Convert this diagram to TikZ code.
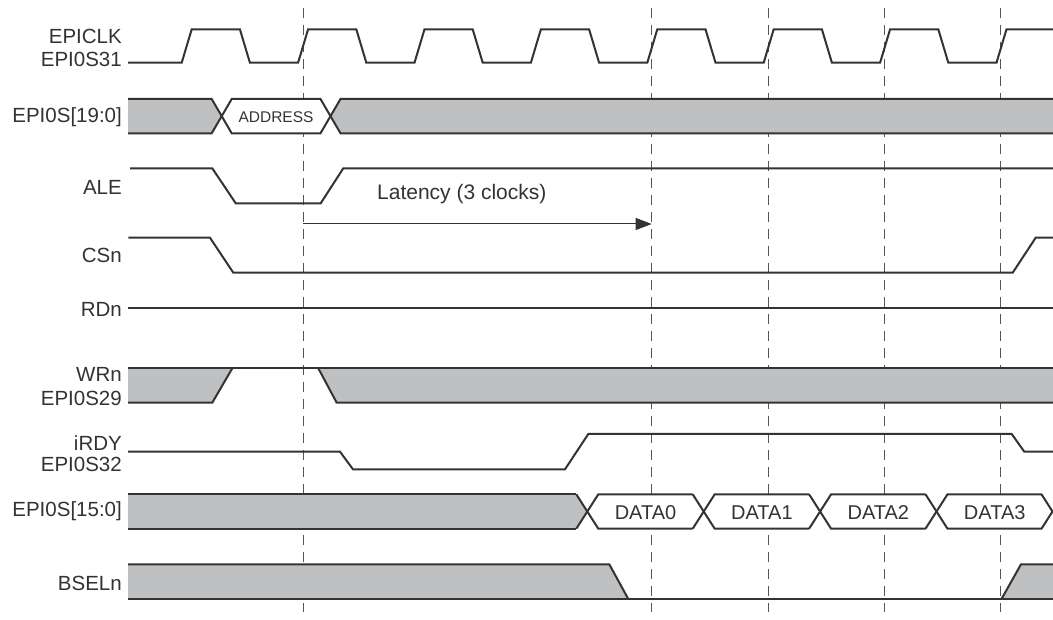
\documentclass[tikz,border=0pt]{standalone}
\usepackage{fontspec}
\setmainfont{Liberation Sans}
\usetikzlibrary{arrows.meta}
\definecolor{ink}{HTML}{333333}
\definecolor{busgray}{HTML}{BFC0C2}
\definecolor{dashgray}{HTML}{555555}
\begin{document}
\begin{tikzpicture}[x=1pt,y=-1pt,
  sig/.style={draw=ink,line width=2pt},
  busfill/.style={fill=busgray,draw=none},
  hexfill/.style={fill=white,draw=none},
  guide/.style={draw=dashgray,line width=1.2pt,dash pattern=on 10pt off 7pt},
  lab/.style={anchor=base east,text=ink,inner sep=0pt,font=\fontsize{20.5}{24}\selectfont},
  buslab/.style={anchor=base,text=ink,inner sep=0pt,font=\fontsize{20}{24}\selectfont},
  smalllab/.style={anchor=base,text=ink,inner sep=0pt,font=\fontsize{15.5}{18}\selectfont}]
\useasboundingbox (0,0) rectangle (1053,620);
\fill[white] (0,0) rectangle (1053,620);

% ---- dashed clock-edge guides ----
\foreach \gx/\gn in {303.3/g1,651.7/g4,768.3/g5,884.3/g6,1000.7/g7}{
  \coordinate (\gn top) at (\gx,8);
  \coordinate (\gn bot) at (\gx,612);
  \draw[guide] (\gn top) -- (\gn bot);
}

% ---- labels ----
\node[lab] (lclk)  at (122,43.3)  {EPICLK};
\node[lab] (lclkb) at (122,66.7)  {EPI0S31};
\node[lab] (ladr)  at (122,122.5) {EPI0S[19:0]};
\node[lab] (lale)  at (122,195)   {ALE};
\node[lab] (lcs)   at (122,263)   {CSn};
\node[lab] (lrd)   at (122,316.5) {RDn};
\node[lab] (lwr)   at (122,381.7) {WRn};
\node[lab] (lwrb)  at (122,405.7) {EPI0S29};
\node[lab] (lrdy)  at (122,450)   {iRDY};
\node[lab] (lrdyb) at (122,471.7) {EPI0S32};
\node[lab] (ldat)  at (122,516.7) {EPI0S[15:0]};
\node[lab] (lbsel) at (122,590)   {BSELn};

% ---- EPICLK ----
\draw[sig] (128,62.7)
  \foreach \k in {0,...,6}{
    -- ({186.7+\k*116.4-5},62.7) -- ({186.7+\k*116.4+5},29.3)
    -- ({244.9+\k*116.4-5},29.3) -- ({244.9+\k*116.4+5},62.7)}
  -- (996.5,62.7) -- (1006.5,29.3) -- (1053,29.3);

% ---- EPI0S[19:0] ----
\fill[busgray] (128,99) -- (211.7,99) -- (221.7,116.2) -- (211.7,133.3) -- (128,133.3) -- cycle;
\fill[white] (221.7,116.2) -- (231.7,99) -- (320.5,99) -- (330.5,116.2) -- (320.5,133.3) -- (231.7,133.3) -- cycle;
\fill[busgray] (330.5,116.2) -- (340.5,99) -- (1053,99) -- (1053,133.3) -- (340.5,133.3) -- cycle;
\draw[sig] (128,99) -- (211.7,99) -- (231.7,133.3) -- (320.5,133.3) -- (340.5,99) -- (1053,99);
\draw[sig] (128,133.3) -- (211.7,133.3) -- (231.7,99) -- (320.5,99) -- (340.5,133.3) -- (1053,133.3);
\node[smalllab] (addr) at (276,122.7) {ADDRESS};

% ---- ALE ----
\draw[sig] (130,168.3) -- (212.3,168.3) -- (235.7,203.3) -- (320.7,203.3) -- (343.3,168.3) -- (1053,168.3);
\node[anchor=base west,text=ink,inner sep=0pt,font=\fontsize{21}{24}\selectfont] (lat) at (377,200) {Latency (3 clocks)};
\coordinate (latS) at (303.3,224);
\coordinate (latE) at (651.7,224);
\draw[draw=ink,line width=1pt,-{Triangle[length=16pt,width=12pt]}] (latS) -- (latE);

% ---- CSn ----
\draw[sig] (128.3,237.7) -- (210,237.7) -- (233.3,272.7) -- (1012.7,272.7) -- (1035.7,237.7) -- (1053,237.7);

% ---- RDn ----
\draw[sig] (128,308.3) -- (1053,308.3);

% ---- WRn ----
\fill[busgray] (128,368.3) -- (232.3,368.3) -- (212.3,402.7) -- (128,402.7) -- cycle;
\fill[busgray] (318.3,368.3) -- (1053,368.3) -- (1053,402.7) -- (336.7,402.7) -- cycle;
\draw[sig] (128,368.3) -- (1053,368.3);
\draw[sig] (128,402.7) -- (212.3,402.7) -- (232.3,368.3);
\draw[sig] (318.3,368.3) -- (336.7,402.7) -- (1053,402.7);

% ---- iRDY ----
\draw[sig] (128,451.7) -- (340,451.7) -- (353,469.3) -- (565,469.3) -- (588.3,434) -- (1011.7,434) -- (1024.3,451.7) -- (1053,451.7);

% ---- EPI0S[15:0] ----
\fill[busgray] (128,494.3) -- (576.3,494.3) -- (587.3,511.5) -- (576.3,528.7) -- (128,528.7) -- cycle;
\draw[sig] (128,494.3) -- (576.3,494.3);
\draw[sig] (128,528.7) -- (576.3,528.7);
\foreach \c/\n in {587.3/0,703.7/1,820.1/2,936.5/3}{
  \fill[white] (\c,511.5) -- (\c+11,494.3) -- (\c+105.4,494.3) -- (\c+116.4,511.5) -- (\c+105.4,528.7) -- (\c+11,528.7) -- cycle;
  \draw[sig] (\c-11,494.3) -- (\c+11,528.7) -- (\c+105.4,528.7);
  \draw[sig] (\c-11,528.7) -- (\c+11,494.3) -- (\c+105.4,494.3);
  \node[buslab] (d\n) at (\c+58.2,519.4) {DATA\n};
}
\draw[sig] (1041.5,494.3) -- (1052.5,511.5) -- (1041.5,528.7);

% ---- BSELn ----
\fill[busgray] (128,564.3) -- (609.3,564.3) -- (628.3,599) -- (128,599) -- cycle;
\fill[busgray] (1001.5,599) -- (1021,564.3) -- (1053,564.3) -- (1053,599) -- cycle;
\draw[sig] (128,564.3) -- (609.3,564.3) -- (628.3,599);
\draw[sig] (128,599) -- (1053,599);
\draw[sig] (1001.5,599) -- (1021,564.3) -- (1053,564.3);
\end{tikzpicture}
\end{document}
